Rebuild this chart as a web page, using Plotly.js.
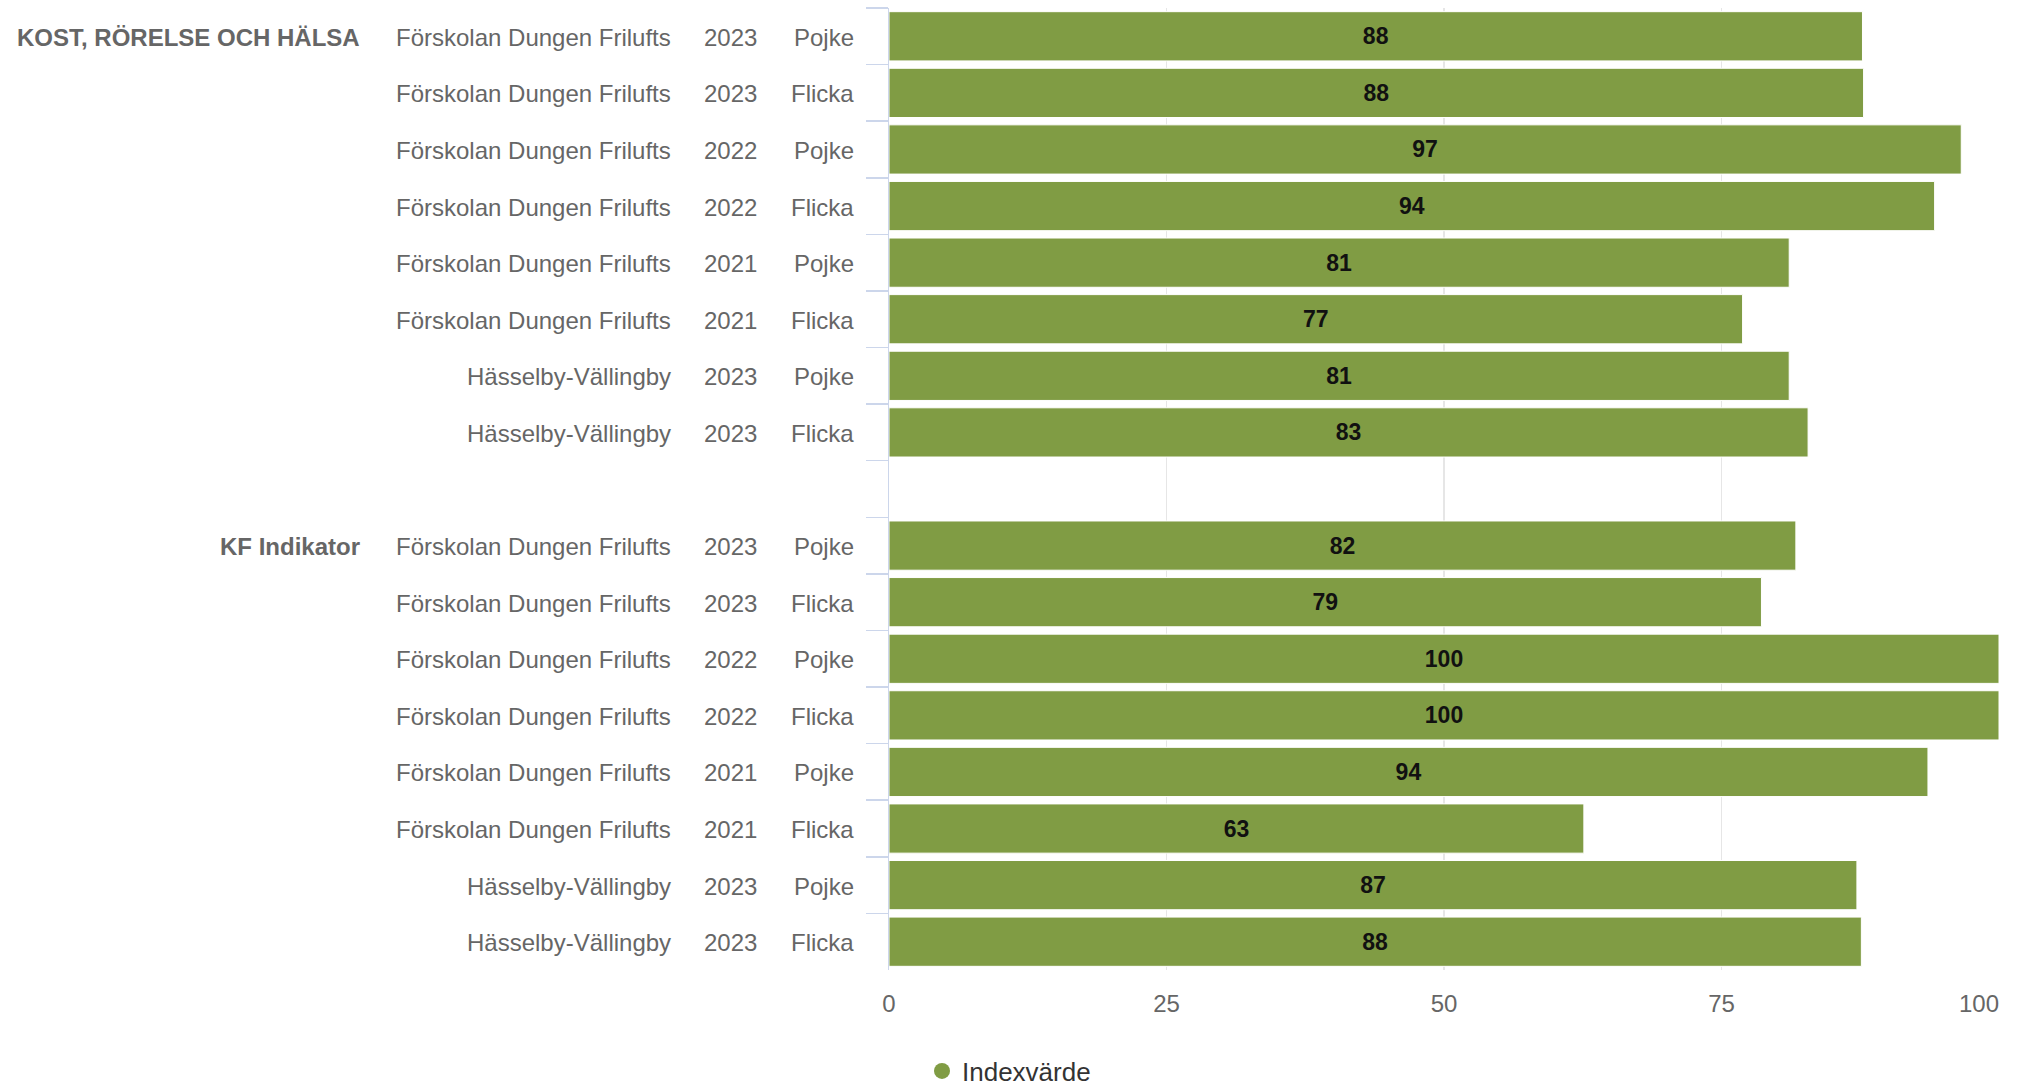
<!DOCTYPE html>
<html>
<head>
<meta charset="utf-8">
<script src="https://cdn.plot.ly/plotly-3.0.1.min.js"></script>
<style>html,body{margin:0;padding:0;background:#fff;}#chart{width:2019px;height:1089px;}</style>
</head>
<body>
<div id="chart"></div>
<script>
// ---- data ----
const groups = ["KOST, RÖRELSE OCH HÄLSA", "KF Indikator"];
const units = ["Förskolan Dungen Frilufts", "Förskolan Dungen Frilufts", "Förskolan Dungen Frilufts", "Förskolan Dungen Frilufts",
               "Förskolan Dungen Frilufts", "Förskolan Dungen Frilufts", "Hässelby-Vällingby", "Hässelby-Vällingby"];
const years = ["2023", "2023", "2022", "2022", "2021", "2021", "2023", "2023"];
const genders = ["Pojke", "Flicka", "Pojke", "Flicka", "Pojke", "Flicka", "Pojke", "Flicka"];
const kostValues = [87.7, 87.8, 96.6, 94.2, 81.1, 76.9, 81.1, 82.8];
const kfValues = [81.7, 78.6, 100, 100, 93.6, 62.6, 87.2, 87.6];
const seriesName = "Indexvärde";
const xTicks = [0, 25, 50, 75];
const xEndTick = [100];
const xRange = [0, 100];

// ---- build categories ----
const groupValues = [kostValues, kfValues];
const keys = [], vals = [], catOrder = [];
groups.forEach((g, gi) => {
  if (gi > 0) catOrder.push("gap" + gi);
  units.forEach((u, i) => {
    const k = g + "|" + u + "|" + years[i] + "|" + genders[i] + "|" + i;
    keys.push(k); vals.push(groupValues[gi][i]); catOrder.push(k);
  });
});

// ---- layout geometry ----
const W = 2019, H = 1089;
const M = {l: 889, r: 20, t: 8, b: 119, autoexpand: false};
const plotW = W - M.l - M.r;
const plotH = H - M.t - M.b;
const px2paper = px => (px - M.l) / plotW;
const py2paper = py => (H - M.b - py) / plotH;

const FONT = "Liberation Sans, Arial, Helvetica, sans-serif";
const green = "#809c44";

const annotations = [];
const colRight = {group: 362, unit: 673, year: 759, gender: 856};
groups.forEach((g, gi) => {
  units.forEach((u, i) => {
    const k = g + "|" + u + "|" + years[i] + "|" + genders[i] + "|" + i;
    const base = {xref: "paper", yref: "y", y: k, xanchor: "right", yanchor: "middle", showarrow: false, yshift: -1,
                  font: {family: FONT, size: 24, color: "#666666"}};
    if (i === 0) annotations.push(Object.assign({}, base, {x: px2paper(colRight.group), text: "<b>" + g + "</b>"}));
    annotations.push(Object.assign({}, base, {x: px2paper(colRight.unit), text: u}));
    annotations.push(Object.assign({}, base, {x: px2paper(colRight.year), text: years[i]}));
    annotations.push(Object.assign({}, base, {x: px2paper(colRight.gender), text: genders[i]}));
  });
});

const traces = [
  {
    type: "bar", orientation: "h", x: vals, y: keys, name: seriesName, showlegend: false,
    marker: {color: green, line: {color: "#ffffff", width: 1}},
    texttemplate: "%{x:.0f}", textposition: "inside", insidetextanchor: "middle",
    textangle: 0, constraintext: "none",
    textfont: {family: FONT, size: 23, color: "#111111", weight: "bold"},
    hoverinfo: "x"
  },
  {
    // legend entry (circle symbol), attached to the overlay axis that carries the end tick
    type: "scatter", mode: "markers", x: [null], y: [null], xaxis: "x2", yaxis: "y", name: seriesName,
    marker: {color: green, size: 26, symbol: "circle"}, showlegend: true, hoverinfo: "skip"
  }
];

const tickFont = {family: FONT, size: 24, color: "#666666"};

const layout = {
  width: W, height: H,
  margin: M,
  paper_bgcolor: "#ffffff", plot_bgcolor: "#ffffff",
  font: {family: FONT, size: 24, color: "#666666"},
  bargap: 0.13,
  showlegend: true,
  legend: {orientation: "h", x: px2paper(922), xanchor: "left", y: py2paper(1071), yanchor: "middle",
           font: {family: FONT, size: 26, color: "#333333"}, itemsizing: "trace"},
  xaxis: {
    range: xRange, tickvals: xTicks, showgrid: true, gridcolor: "#e6e6e6", gridwidth: 1.5,
    zeroline: false, showline: false, ticks: "", ticklabelstandoff: 17,
    tickfont: tickFont, fixedrange: true
  },
  // end tick (100) drawn right-aligned to the plot edge, as in the reference
  xaxis2: {
    overlaying: "x", anchor: "y", side: "bottom", range: xRange, autorange: false, tickvals: xEndTick,
    showgrid: true, gridcolor: "#e6e6e6", gridwidth: 1.5,
    zeroline: false, showline: false, ticks: "", ticklabelstandoff: 17,
    ticklabelposition: "outside left", tickfont: tickFont, fixedrange: true
  },
  yaxis: {
    type: "category", categoryorder: "array", categoryarray: catOrder, autorange: "reversed",
    showticklabels: false, showgrid: false, zeroline: false,
    showline: true, linecolor: "#ccd6eb", linewidth: 1.5,
    ticks: "outside", tickson: "boundaries", ticklen: 22, tickcolor: "#ccd6eb", tickwidth: 1.5
  },
  annotations: annotations
};

Plotly.newPlot("chart", traces, layout, {displayModeBar: false, staticPlot: true});
</script>
</body>
</html>
